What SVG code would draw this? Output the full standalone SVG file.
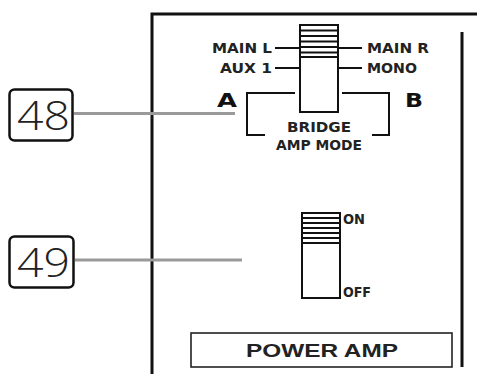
<svg xmlns="http://www.w3.org/2000/svg" width="477" height="374" viewBox="0 0 477 374">
<style>
.frame{stroke:#111;stroke-width:3;fill:none}
.ln{stroke:#111;stroke-width:2;fill:none}
.sw{stroke:#111;stroke-width:2;fill:#fff}
.lead{stroke:#9a9a9a;stroke-width:3;fill:none}
.lbl{font-family:"DejaVu Sans",Verdana,sans-serif;font-weight:bold;font-size:14px;fill:#222}
.big{font-family:"DejaVu Sans",Verdana,sans-serif;font-weight:bold;font-size:20px;fill:#111}
.num{font-family:"Open Sans","Liberation Sans",Arial,sans-serif;font-weight:300;font-size:40px;fill:#222}
.pa{font-family:"Liberation Sans",Arial,sans-serif;font-weight:bold;font-size:19px;fill:#222}
</style>
<rect width="477" height="374" fill="#fff"/>
<g id="panel">
<path class="frame" d="M152,374 V14 H477"/>
<line class="frame" x1="462" y1="32" x2="462" y2="367"/>
</g>
<g id="bridge-switch">
<line class="ln" x1="275" y1="48" x2="300" y2="48"/>
<line class="ln" x1="275" y1="68" x2="300" y2="68"/>
<line class="ln" x1="338" y1="48" x2="362" y2="48"/>
<line class="ln" x1="338" y1="68" x2="362" y2="68"/>
<path class="ln" d="M295,93 H247 V135 H265"/>
<path class="ln" d="M342,93 H389 V135 H372"/>
<rect class="sw" x="300" y="25" width="38" height="87"/>
<path class="ln" stroke-width="1.6" d="M300,30.5 H338 M300,36 H338 M300,41.5 H338 M300,47 H338 M300,52.5 H338 M300,57 H338"/>
<text class="lbl" x="272" y="53" text-anchor="end" textLength="60" lengthAdjust="spacingAndGlyphs">MAIN L</text>
<text class="lbl" x="272" y="73" text-anchor="end" textLength="52" lengthAdjust="spacingAndGlyphs">AUX 1</text>
<text class="lbl" x="367" y="53" textLength="62" lengthAdjust="spacingAndGlyphs">MAIN R</text>
<text class="lbl" x="367" y="73" textLength="50" lengthAdjust="spacingAndGlyphs">MONO</text>
<text class="big" x="217" y="107" textLength="20" lengthAdjust="spacingAndGlyphs">A</text>
<text class="big" x="405" y="107" textLength="18" lengthAdjust="spacingAndGlyphs">B</text>
<text class="lbl" x="319" y="132" font-size="13.5" text-anchor="middle" textLength="64" lengthAdjust="spacingAndGlyphs" fill="#333">BRIDGE</text>
<text class="lbl" x="319" y="150" font-size="13.5" text-anchor="middle" textLength="86" lengthAdjust="spacingAndGlyphs" fill="#333">AMP MODE</text>
</g>
<g id="power-switch">
<rect class="sw" x="302" y="213" width="38" height="85"/>
<path class="ln" stroke-width="1.6" d="M302,218 H340 M302,223 H340 M302,228 H340 M302,233 H340 M302,238 H340 M302,243 H340"/>
<text class="lbl" x="343" y="224" font-size="12" font-weight="600" textLength="22" lengthAdjust="spacingAndGlyphs">ON</text>
<text class="lbl" x="343" y="297" font-size="12" font-weight="600" textLength="28" lengthAdjust="spacingAndGlyphs">OFF</text>
</g>
<g id="power-amp">
<rect x="191" y="333" width="261" height="34" fill="#fff" stroke="#222" stroke-width="1.6"/>
<text class="pa" x="322" y="357" text-anchor="middle" textLength="152" lengthAdjust="spacingAndGlyphs">POWER AMP</text>
</g>
<g id="callout-48">
<rect x="9.5" y="89.5" width="63" height="51" rx="5" fill="#fff" stroke="#111" stroke-width="2.5"/>
<text class="num" x="17" y="130" textLength="53" lengthAdjust="spacingAndGlyphs">48</text>
</g>
<g id="callout-49">
<rect x="9.5" y="236.5" width="64" height="51" rx="5" fill="#fff" stroke="#111" stroke-width="2.5"/>
<text class="num" x="17" y="277" textLength="53" lengthAdjust="spacingAndGlyphs">49</text>
</g>
<g id="connectors">
<line class="lead" x1="74" y1="113.5" x2="235" y2="113.5"/>
<line class="lead" x1="75" y1="260" x2="242" y2="260"/>
</g>
</svg>
